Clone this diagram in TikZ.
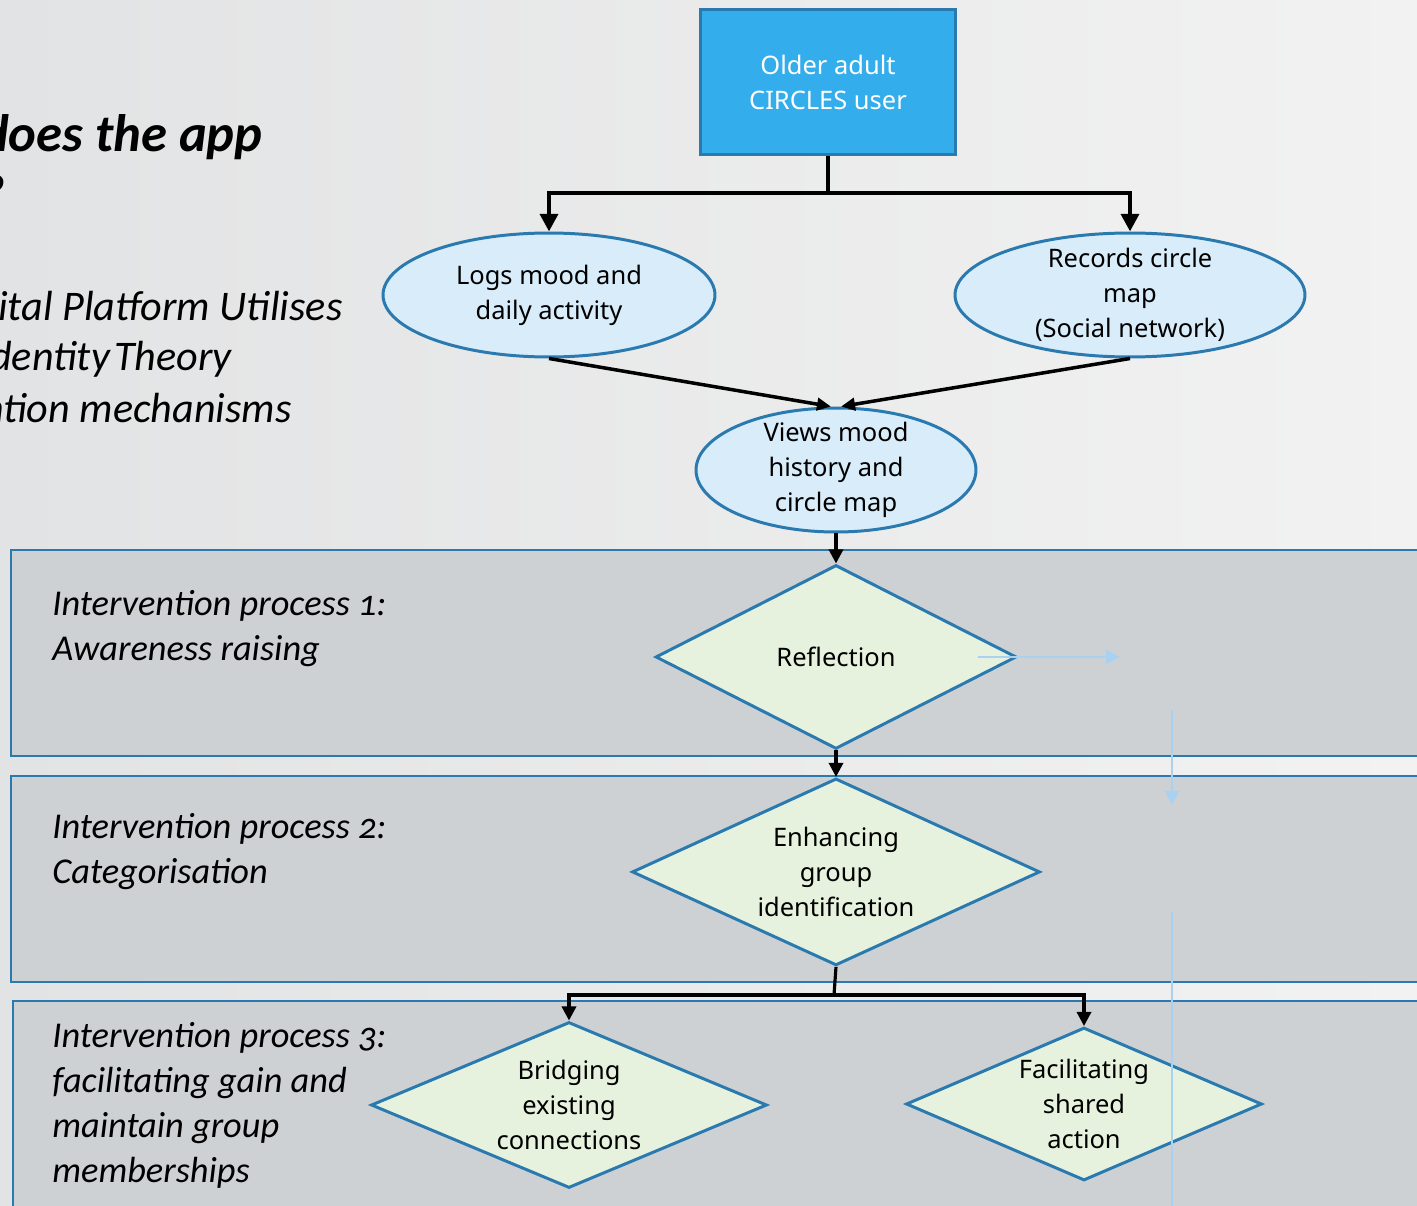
\documentclass[tikz,border=0pt]{standalone}
\usepackage{fontspec}
\setmainfont{Noto Sans}
\newfontfamily\labelfont[Numbers=OldStyle]{Carlito}
\usetikzlibrary{shapes.geometric,arrows.meta,positioning}

\definecolor{userblue}{HTML}{33ADEC}
\definecolor{edgeblue}{HTML}{2A7AB0}
\definecolor{paleblue}{HTML}{D8ECF9}
\definecolor{palegreen}{HTML}{E6F2DD}
\definecolor{bandgray}{HTML}{CDD1D3}
\definecolor{ghostblue}{HTML}{A9D1F2}
\definecolor{bgleft}{HTML}{E2E3E4}
\definecolor{bgright}{HTML}{F2F2F2}

\begin{document}
\begin{tikzpicture}[
  x=0.02cm, y=-0.02cm,
  >={Triangle[length=10pt,width=10pt]},
  userbox/.style={rectangle, draw=edgeblue, line width=1.2pt, fill=userblue, text=white, minimum width=5.1cm, minimum height=2.9cm, align=center, font=\fontsize{14.5}{19.9}\selectfont},
  mood/.style={ellipse, draw=edgeblue, line width=1.7pt, fill=paleblue, minimum height=2.48cm, inner sep=-2.5pt, align=center, font=\fontsize{14.5}{19.9}\selectfont},
  choice/.style={diamond, draw=edgeblue, line width=1.7pt, fill=palegreen, inner sep=0pt, align=center, font=\fontsize{14.5}{19.9}\selectfont},
  band/.style={draw=edgeblue, line width=1.3pt, fill=bandgray},
  bandlabel/.style={anchor=north west, align=left, inner sep=0pt, font=\labelfont\itshape\fontsize{20.7}{25.6}\selectfont},
  heading/.style={anchor=base east, inner sep=0pt, font=\labelfont\itshape\fontsize{24}{28.4}\selectfont},
  title/.style={heading, font=\labelfont\bfseries\itshape\fontsize{30}{35}\selectfont},
  link/.style={line width=2.5pt},
  ghost/.style={draw=ghostblue, line width=1.1pt, >={Triangle[length=8pt,width=8pt]}},
  node distance=2cm
]
\useasboundingbox (0,0) rectangle (1417,1206);
\clip (0,0) rectangle (1417,1206);
\shade[left color=bgleft, right color=bgright] (0,0) rectangle (1417,1206);

% Slide heading (cut at the left edge)
\node (heading) [title] at (263,152) {does the app};
\node (headingq) [title] at (5,212) {?};
\node (sub1) [heading] at (343,320) {ital Platform Utilises};
\node (sub2) [heading] at (232,370) {dentity\hspace{0.1em}Theory};
\node (sub3) [heading] at (292,422) {ntion mechanisms};

% Intervention bands
\draw[band] (11,550) rectangle (1430,756);
\draw[band] (11,776) rectangle (1430,982);
\draw[band] (13,1001) rectangle (1430,1215);
\node (proc1) [bandlabel] at (52,590) {Intervention process 1:\\Awareness raising};
\node (proc2) [bandlabel] at (52,813) {Intervention process 2:\\Categorisation};
\node (proc3) [bandlabel] at (52,1022) {Intervention process 3:\\facilitating gain and\\maintain group\\memberships};

% App use
\node (user) [userbox] at (828,82) {Older adult\\CIRCLES user};
\node (logs) [mood, minimum width=6.64cm] at (549,295) {Logs mood and\\daily activity};
\node (records) [mood, minimum width=7cm] at (1130,295) {Records circle\\map\\(Social network)};
\node (views) [mood, minimum width=5.6cm] at (836,470) {Views mood\\history and\\circle map};

% Processes
\node (reflect) [choice, below of=views, node distance=3.74cm, minimum width=7.22cm, minimum height=3.68cm, shape aspect=2] {Reflection};
\node (enhance) [choice, below of=reflect, node distance=4.3cm, minimum width=8.16cm, minimum height=3.74cm, shape aspect=2.2] {Enhancing\\group\\identification};
\node (bridge) [choice, minimum width=7.92cm, minimum height=3.32cm, shape aspect=2.4] at (569,1105) {Bridging\\existing\\connections};
\node (shared) [choice, minimum width=7.12cm, minimum height=3.06cm, shape aspect=2.3] at (1084,1104) {Facilitating\\shared\\action};

% Connections
\coordinate (split) at (828,193);
\draw[link] (user.south) -- (split);
\draw[link,->] (split) -| (logs.north);
\draw[link,->] (split) -| (records.north);
\draw[->,line width=2pt,>={Triangle[length=8pt,width=7pt]}] (logs.south) -- ([xshift=-0.1cm]views.north);
\draw[->,line width=2pt,>={Triangle[length=8pt,width=7pt]}] (records.south) -- ([xshift=0.1cm]views.north);
\draw[->,line width=1.8pt,>={Triangle[length=8pt,width=8pt]}] (views) -- (reflect);
\draw[->,line width=1.8pt,>={Triangle[length=8pt,width=8pt]}] (reflect) -- (enhance);
\coordinate (split2) at (834,995);
\draw[line width=1.8pt] (enhance.south) -- (split2);
\draw[->,line width=1.8pt,>={Triangle[length=8pt,width=8pt]}] (split2) -| (bridge.north);
\draw[->,line width=1.8pt,>={Triangle[length=8pt,width=8pt]}] (split2) -| (shared.north);

% Faint leftover connectors
\coordinate (ghostA) at (1120,657);
\coordinate (ghostB) at (1172,710);
\coordinate (ghostC) at (1172,805);
\coordinate (ghostD) at (1172,912);
\coordinate (ghostE) at (1172,1206);
\draw[ghost,->] ([xshift=-0.8cm]reflect.east) -- (ghostA);
\draw[ghost,->] (ghostB) -- (ghostC);
\draw[ghost] (ghostD) -- (ghostE);

\end{tikzpicture}
\end{document}
